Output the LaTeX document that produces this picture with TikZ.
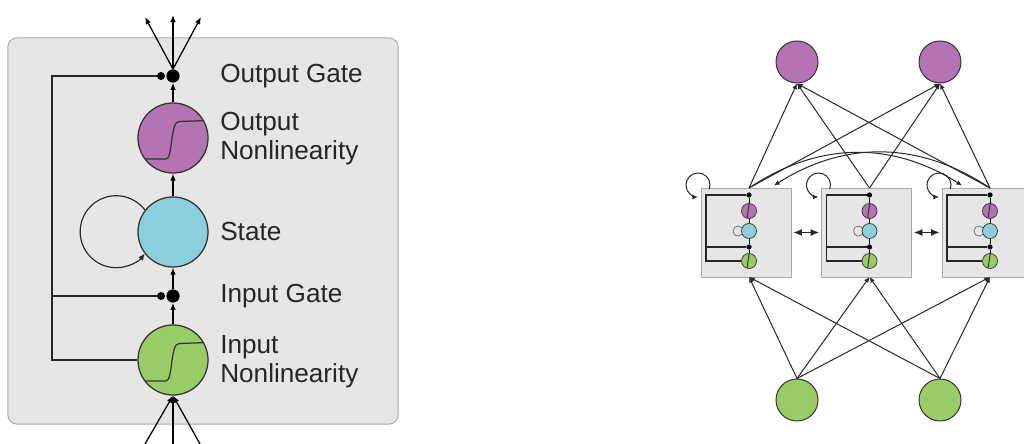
\documentclass[tikz,border=0pt]{standalone}
\usepackage{fontspec}
\setmainfont{Liberation Sans}
\usetikzlibrary{arrows.meta, positioning}
\definecolor{cellgray}{HTML}{E6E6E6}
\definecolor{cellborder}{HTML}{A8A8A8}
\definecolor{outpurple}{HTML}{B473B3}
\definecolor{statecyan}{HTML}{8CCFDB}
\definecolor{ingreen}{HTML}{99CC66}
\definecolor{labeltext}{HTML}{262626}

\begin{document}
\begin{tikzpicture}[
    x=0.025cm, y=0.025cm,
    >={Latex[length=5pt,width=4pt]},
    unit/.style={draw=black!80, circle, fill=#1, minimum size=1.75cm, inner sep=0pt, line width=0.9pt},
    mini/.style={draw=black!80, circle, fill=#1, minimum size=0.375cm, inner sep=0pt, line width=0.5pt},
    gate/.style={circle, fill=black, minimum size=0.33cm, inner sep=0pt},
    tap/.style={circle, fill=black, minimum size=0.2cm, inner sep=0pt},
    minidot/.style={circle, fill=black, minimum size=0.13cm, inner sep=0pt},
    sigm/.style 2 args={path picture={\draw[line width=#2, shift={(path picture bounding box.center)}, scale=#1]
        (-36,-21) -- (-7,-21) .. controls (0,-21) and (-3,16.5) .. (6,16.5) -- (36,17.5);}},
    feed/.style={line width=1.3pt, black!85},
    link/.style={->, line width=0.9pt},
    net/.style={-{Latex[length=4pt,width=3.5pt]}, line width=0.7pt, black!85},
    both/.style={{Latex[length=6pt,width=5pt]}-{Latex[length=6pt,width=5pt]}, line width=0.7pt, black!85, shorten <=1.5pt, shorten >=1.5pt},
    lbl/.style={anchor=west, inner sep=0pt, align=left, font=\fontsize{18.6}{20.5}\selectfont, text=labeltext},
    minicell/.pic={
        \node[draw=cellborder, fill=cellgray, minimum width=2.25cm, minimum height=2.225cm, inner sep=0pt, line width=0.6pt] (-box) at (0,0) {};
        \node[minidot] (-og) at (3,37.5) {};
        \node[mini=outpurple, sigm={0.214}{0.7pt}] (-onl) at (3,21.5) {};
        \node[mini=statecyan] (-st) at (3,1.5) {};
        \node[minidot] (-ig) at (3,-14.5) {};
        \node[mini=ingreen, sigm={0.214}{0.7pt}] (-inl) at (3,-28.5) {};
        \coordinate (-top) at (3,44.5);
        \coordinate (-bot) at (3,-44.5);
        \coordinate (-arrl) at (-25,47);
        \coordinate (-arrr) at (28,47);
        \coordinate (-fb) at (-40,-28.5);
        \coordinate (-fbmid) at (-40,-14.5);
        \draw[line width=0.9pt, black!85] (-og) -| (-fb) -- (-inl);
        \draw[line width=0.9pt, black!85] (-fbmid) -- (-ig);
        \draw[line width=0.5pt] (-og) -- (-onl) (-onl) -- (-st) (-st) -- (-ig) (-ig) -- (-inl);
        \draw[line width=0.5pt, black!60] (-4.2,4.7) arc[start angle=40, end angle=320, radius=5];
        \draw[net] (-36.7,43.4) arc[start angle=-20, end angle=270, radius=12];
    },
]
\useasboundingbox (0,0) rectangle (1024,444);

% single memory cell, enlarged
\node[draw=cellborder, fill=cellgray, rounded corners=0.22cm, minimum width=9.75cm, minimum height=9.65cm, line width=0.7pt] (cell) at (203,213) {};
\node[gate] (og) at (173,368) {};
\node[tap] (ogtap) at (161,368) {};
\node[unit=outpurple, sigm={1}{0.9pt}] (onl) at (173,306) {};
\node[unit=statecyan] (st) at (173,212) {};
\node[gate] (ig) at (173,148) {};
\node[tap] (igtap) at (161,148) {};
\node[unit=ingreen, sigm={1}{0.9pt}] (inl) at (173,84) {};

\node[lbl] (lab-og) at (220,368) {Output Gate};
\node[lbl] (lab-onl) at (220,305) {Output\\Nonlinearity};
\node[lbl] (lab-st) at (220,212) {State};
\node[lbl] (lab-ig) at (220,148) {Input Gate};
\node[lbl] (lab-inl) at (220,82) {Input\\Nonlinearity};

\coordinate (fbbot) at (52,84);
\coordinate (fbmid) at (52,148);
\draw[feed] (ogtap) -| (fbbot) -- (inl);
\draw[feed] (fbmid) -- (igtap);

\draw[link] (inl) -- (ig);
\draw[link] (ig) -- (st);
\draw[link] (st) -- (onl);
\draw[link] (onl) -- (og);
\draw[->, line width=0.8pt, black!85] (st.142) arc[start angle=37, end angle=323, radius=36];

\coordinate (out1) at (145,427);
\coordinate (out2) at (173,429);
\coordinate (out3) at (201,427);
\coordinate (in1) at (145,0);
\coordinate (in2) at (173,0);
\coordinate (in3) at (200,0);
\foreach \o in {out1,out2,out3} \draw[link] (og.north) -- (\o);
\foreach \i in {in1,in2,in3} \draw[link] (\i) -- (inl.south);

% recurrent layer of cells
\node[unit=outpurple, minimum size=1.05cm, line width=0.7pt] (o1) at (797,382) {};
\node[unit=outpurple, minimum size=1.05cm, line width=0.7pt] (o2) at (940,382) {};
\node[unit=ingreen, minimum size=1.05cm, line width=0.7pt] (i1) at (797,44) {};
\node[unit=ingreen, minimum size=1.05cm, line width=0.7pt] (i2) at (940,44) {};

\pic (c1) at (746,211.5) {minicell};
\pic (c2) at (866.5,211.5) {minicell};
\pic (c3) at (987,211.5) {minicell};

\draw[both] (c1-box.east) -- (c2-box.west);
\draw[both] (c2-box.east) -- (c3-box.west);

\foreach \c in {c1,c2,c3} {
    \draw[net] (\c-top) -- (o1.south);
    \draw[net] (\c-top) -- (o2.south);
    \draw[net] (i1.north) -- (\c-bot);
    \draw[net] (i2.north) -- (\c-bot);
}
\draw[net] (c1-top) to[bend left=33] (c3-arrl);
\draw[net] (c3-top) to[bend right=33] (c1-arrr);
\end{tikzpicture}
\end{document}
